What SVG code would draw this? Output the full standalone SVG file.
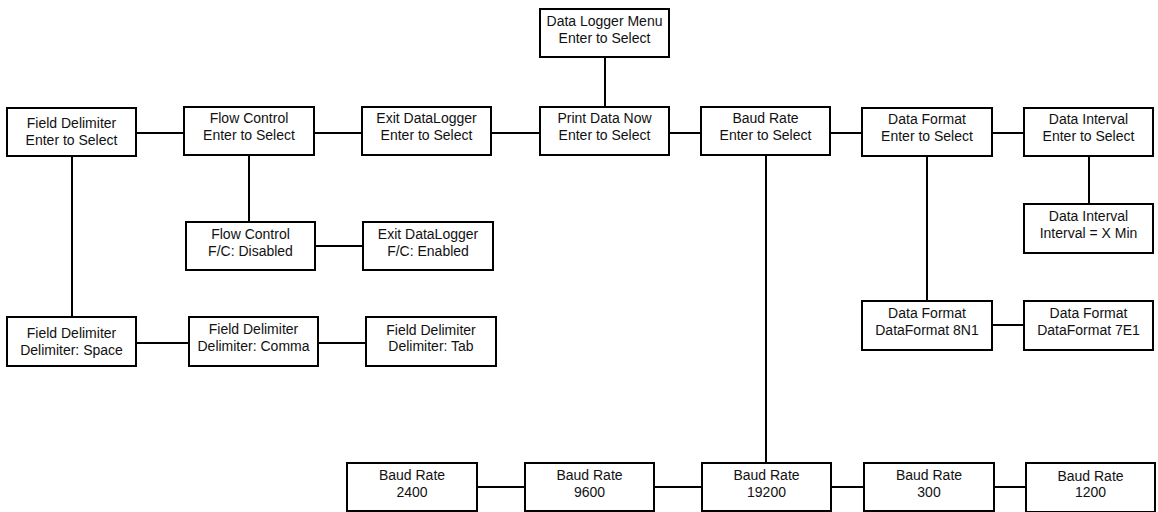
<svg xmlns="http://www.w3.org/2000/svg" width="1158" height="512" viewBox="0 0 1158 512">
<style>
.b{fill:#fff;stroke:#000;stroke-width:2}
.t{font-family:"Liberation Sans",Arial,sans-serif;font-size:14px;fill:#111;text-anchor:middle}
.c{stroke:#000;stroke-width:2;fill:none}
</style>
<rect width="1158" height="512" fill="#fff"/>
<g id="connectors">
<path class="c" d="M136 133H184M314 133H362M491 133H540M669 133H701M830 133H862M992 133H1024"/>
<path class="c" d="M605 57V107M72 156V317M249 155V222M927 156V301M1089 156V204M766 155V463"/>
<path class="c" d="M315 246H363M136 343H189M318 343H366M992 325H1024"/>
<path class="c" d="M477 487H525M654 487H702M831 487H864M994 487H1026"/>
</g>
<g id="n1"><rect class="b" x="7" y="108" width="129" height="48"/><text class="t" x="71.5" y="127.5">Field Delimiter</text><text class="t" x="71.5" y="144.5">Enter to Select</text></g>
<g id="n2"><rect class="b" x="184" y="107" width="130" height="48"/><text class="t" x="249" y="123">Flow Control</text><text class="t" x="249" y="140">Enter to Select</text></g>
<g id="n3"><rect class="b" x="362" y="107" width="129" height="48"/><text class="t" x="426.5" y="123">Exit DataLogger</text><text class="t" x="426.5" y="140">Enter to Select</text></g>
<g id="n4"><rect class="b" x="540" y="107" width="129" height="48"/><text class="t" x="604.5" y="123">Print Data Now</text><text class="t" x="604.5" y="140">Enter to Select</text></g>
<g id="n5"><rect class="b" x="540" y="9" width="129" height="48"/><text class="t" x="604.5" y="25.5">Data Logger Menu</text><text class="t" x="604.5" y="42.5">Enter to Select</text></g>
<g id="n6"><rect class="b" x="701" y="107" width="129" height="48"/><text class="t" x="765.5" y="123">Baud Rate</text><text class="t" x="765.5" y="140">Enter to Select</text></g>
<g id="n7"><rect class="b" x="862" y="108" width="130" height="48"/><text class="t" x="927" y="124">Data Format</text><text class="t" x="927" y="141">Enter to Select</text></g>
<g id="n8"><rect class="b" x="1024" y="108" width="129" height="48"/><text class="t" x="1088.5" y="124">Data Interval</text><text class="t" x="1088.5" y="141">Enter to Select</text></g>
<g id="n9"><rect class="b" x="186" y="222" width="129" height="48"/><text class="t" x="250.5" y="239">Flow Control</text><text class="t" x="250.5" y="256">F/C: Disabled</text></g>
<g id="n10"><rect class="b" x="363" y="222" width="130" height="48"/><text class="t" x="428" y="239">Exit DataLogger</text><text class="t" x="428" y="256">F/C: Enabled</text></g>
<g id="n11"><rect class="b" x="1024" y="204" width="129" height="49"/><text class="t" x="1088.5" y="221">Data Interval</text><text class="t" x="1088.5" y="238">Interval = X Min</text></g>
<g id="n12"><rect class="b" x="7" y="317" width="129" height="49"/><text class="t" x="71.5" y="337.5">Field Delimiter</text><text class="t" x="71.5" y="354.5">Delimiter: Space</text></g>
<g id="n13"><rect class="b" x="189" y="317" width="129" height="49"/><text class="t" x="253.5" y="334">Field Delimiter</text><text class="t" x="253.5" y="351">Delimiter: Comma</text></g>
<g id="n14"><rect class="b" x="366" y="317" width="130" height="49"/><text class="t" x="431" y="334.5">Field Delimiter</text><text class="t" x="431" y="351">Delimiter: Tab</text></g>
<g id="n15"><rect class="b" x="862" y="301" width="130" height="49"/><text class="t" x="927" y="318">Data Format</text><text class="t" x="927" y="335">DataFormat 8N1</text></g>
<g id="n16"><rect class="b" x="1024" y="301" width="129" height="49"/><text class="t" x="1088.5" y="318">Data Format</text><text class="t" x="1088.5" y="335">DataFormat 7E1</text></g>
<g id="n17"><rect class="b" x="347" y="463" width="130" height="48"/><text class="t" x="412" y="480">Baud Rate</text><text class="t" x="412" y="496.5">2400</text></g>
<g id="n18"><rect class="b" x="525" y="463" width="129" height="48"/><text class="t" x="589.5" y="480">Baud Rate</text><text class="t" x="589.5" y="496.5">9600</text></g>
<g id="n19"><rect class="b" x="702" y="463" width="129" height="48"/><text class="t" x="766.5" y="480">Baud Rate</text><text class="t" x="766.5" y="496.5">19200</text></g>
<g id="n20"><rect class="b" x="864" y="463" width="130" height="48"/><text class="t" x="929" y="480">Baud Rate</text><text class="t" x="929" y="496.5">300</text></g>
<g id="n21"><rect class="b" x="1026" y="463" width="129" height="49"/><text class="t" x="1090.5" y="480.5">Baud Rate</text><text class="t" x="1090.5" y="497">1200</text></g>
</svg>
